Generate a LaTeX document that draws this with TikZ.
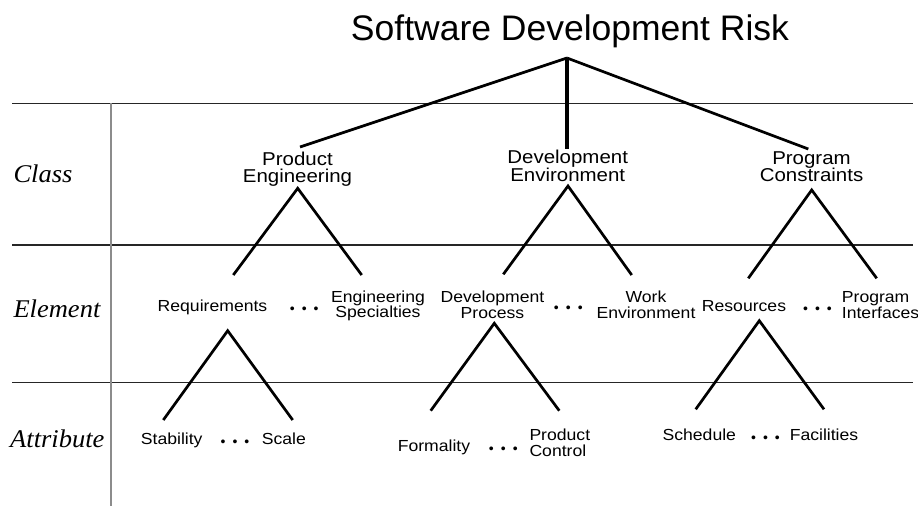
\documentclass[tikz,border=0pt]{standalone}
\usepackage{fontspec}
\setmainfont{Liberation Sans}
\newfontfamily\lblfont{Liberation Sans}[FakeStretch=1.1]
\newfontfamily\rowfont{Liberation Serif}[FakeStretch=1.04]
\newcommand{\tridots}{\textbullet\hspace{7pt}\textbullet\hspace{7pt}\textbullet}
\begin{document}
\begin{tikzpicture}[x=1pt,y=-1pt,
  titlelbl/.style={font=\fontsize{35.5}{40}\selectfont, inner sep=0, anchor=base},
  clslbl/.style={font=\lblfont\fontsize{18.6}{17.7}\selectfont, align=center, inner sep=0, anchor=base},
  eltlbl/.style={font=\lblfont\fontsize{16}{15.8}\selectfont, align=center, inner sep=0, anchor=base},
  eltleft/.style={font=\lblfont\fontsize{16}{15.8}\selectfont, align=left, inner sep=0, anchor=base west},
  rowlbl/.style={font=\rowfont\itshape\fontsize{25.5}{28}\selectfont, inner sep=0, anchor=base west},
  dotslbl/.style={font=\fontsize{14}{14}\selectfont, inner sep=0, anchor=center, yshift=-4pt},
  branch/.style={line width=2.7pt, line cap=butt},
  trunk/.style={line width=4.5pt, line cap=butt},
  hrule/.style={line width=1.1pt, draw=black!85},
  vrule/.style={line width=1.4pt, draw=black!45}]
\useasboundingbox (0,0) rectangle (918,506);

% rules
\coordinate (h1l) at (12,103.3); \coordinate (h1r) at (913,103.3);
\coordinate (h2l) at (12,245);   \coordinate (h2r) at (913,245);
\coordinate (h3l) at (12,382.3); \coordinate (h3r) at (913,382.3);
\coordinate (vt) at (111,103.3); \coordinate (vb) at (111,506);
\draw[hrule] (h1l) -- (h1r);
\draw[hrule] (h2l) -- (h2r);
\draw[hrule] (h3l) -- (h3r);
\draw[vrule] (vt) -- (vb);

% row labels
\node[rowlbl] (rclass) at (13.3,182.3) {Class};
\node[rowlbl] (relem) at (13.3,317.3) {Element};
\node[rowlbl] (rattr) at (10,447.3) {Attribute};

% title
\node[titlelbl] (title) at (570,40.7) {Software Development Risk};

% class level (anchor = baseline of last line)
\node[clslbl] (pe) at (297.5,182.7) {Product\\Engineering};
\node[clslbl] (de) at (567.7,181.5) {Development\\Environment};
\node[clslbl] (pc) at (811.5,181.7) {Program\\Constraints};

% element level
\node[eltlbl] (req) at (212.5,311.7) {Requirements};
\node[dotslbl] (d1) at (304.2,306.7) {\tridots};
\node[eltlbl] (es) at (378,317.8) {Engineering\\Specialties};
\node[eltlbl] (dp) at (492.5,318.3) {Development\\Process};
\node[dotslbl] (d2) at (568.3,305.5) {\tridots};
\node[eltlbl] (we) at (646,318.3) {Work\\Environment};
\node[eltlbl] (res) at (744,311.7) {Resources};
\node[dotslbl] (d3) at (817.5,306.7) {\tridots};
\node[eltleft] (pi) at (841.7,318.3) {Program\\Interfaces};

% attribute level
\node[eltlbl] (stab) at (171.7,444) {Stability};
\node[dotslbl] (d4) at (235,438.8) {\tridots};
\node[eltlbl] (scale) at (283.8,444) {Scale};
\node[eltlbl] (form) at (434,451.7) {Formality};
\node[dotslbl] (d5) at (503.3,446.5) {\tridots};
\node[eltleft] (pcon) at (529.3,456.7) {Product\\Control};
\node[eltlbl] (sched) at (699.3,440) {Schedule};
\node[dotslbl] (d6) at (765.5,435.5) {\tridots};
\node[eltlbl] (fac) at (824,440) {Facilities};

% tree connectors
\coordinate (apex) at (567,58);
\coordinate (peT) at (300,147); \coordinate (deT) at (567,149); \coordinate (pcT) at (808.3,149);
\draw[branch] (apex) -- (peT);
\draw[trunk] (apex) -- (deT);
\draw[branch] (apex) -- (pcT);

\coordinate (peA) at (297.7,188.3); \coordinate (peL) at (233.3,275); \coordinate (peR) at (361.7,275);
\coordinate (deA) at (568,186);     \coordinate (deL) at (503.3,274.3); \coordinate (deR) at (631.7,275);
\coordinate (pcA) at (811.7,190);   \coordinate (pcL) at (748.3,278.3); \coordinate (pcR) at (876.7,278.3);
\draw[branch] (peL) -- (peA) -- (peR);
\draw[branch] (deL) -- (deA) -- (deR);
\draw[branch] (pcL) -- (pcA) -- (pcR);

\coordinate (rqA) at (227.7,330.7); \coordinate (rqL) at (163.3,420); \coordinate (rqR) at (292.7,420);
\coordinate (dpA) at (494.3,323.3); \coordinate (dpL) at (430.7,410.7); \coordinate (dpR) at (559.3,410.7);
\coordinate (rsA) at (759.3,320.7); \coordinate (rsL) at (695.7,409.3); \coordinate (rsR) at (824,409.3);
\draw[branch] (rqL) -- (rqA) -- (rqR);
\draw[branch] (dpL) -- (dpA) -- (dpR);
\draw[branch] (rsL) -- (rsA) -- (rsR);
\end{tikzpicture}
\end{document}
